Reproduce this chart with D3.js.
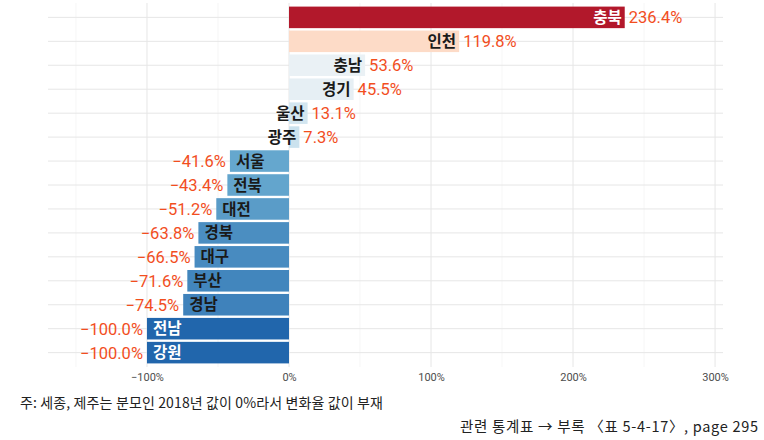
<!DOCTYPE html>
<html><head><meta charset="utf-8">
<script src="https://cdn.jsdelivr.net/npm/d3@7"></script>
<style>
html,body{margin:0;padding:0;background:#fff;}
svg{display:block;}
</style></head>
<body>
<svg id="chart" width="764" height="440"></svg>
<script>
const regions = ["충북","인천","충남","경기","울산","광주","서울","전북","대전","경북","대구","부산","경남","전남","강원"];
const changes = [236.4,119.8,53.6,45.5,13.1,7.3,-41.6,-43.4,-51.2,-63.8,-66.5,-71.6,-74.5,-100.0,-100.0];
const majorTicks = [-100,0,100,200,300];
const minorTicks = [-150,-50,50,150,250];
const footnote = "주: 세종, 제주는 분모인 2018년 값이 0%라서 변화율 값이 부재";
const source = "관련 통계표 → 부록 〈표 5-4-17〉, page 295";

(function(){
const svg = d3.select("#chart");
const pL = 48, pR = 723, pT = 3, pB = 367;

const x = d3.scaleLinear().domain([-169.7, 305.6]).range([pL, pR]);
const y = d3.scalePoint().domain(regions).range([pT, pB]).padding(0.6);
const bh = y.step() * 0.9;

const color = d3.scaleLinear()
  .domain([-100, -40, 10, 75, 120, 236.4])
  .range(["#2166AC","#67A9CF","#D1E5F0","#F7F7F7","#FDDBC7","#B2182B"])
  .clamp(true);

const fmt = v => (v < 0 ? "\u2212" : "") + Math.abs(v).toFixed(1) + "%";
const tickFmt = v => (v < 0 ? "\u2212" : "") + Math.abs(v) + "%";

const g = svg.append("g");
g.selectAll(".vminor").data(minorTicks).join("line")
  .attr("x1", d => x(d)).attr("x2", d => x(d)).attr("y1", pT).attr("y2", pB)
  .attr("stroke", "#f0f0f0").attr("stroke-width", 0.6);
g.selectAll(".vmajor").data(majorTicks).join("line")
  .attr("x1", d => x(d)).attr("x2", d => x(d)).attr("y1", pT).attr("y2", pB)
  .attr("stroke", "#e6e6e6").attr("stroke-width", 1);
g.selectAll(".hmajor").data(regions).join("line")
  .attr("x1", pL).attr("x2", pR).attr("y1", d => y(d)).attr("y2", d => y(d))
  .attr("stroke", "#e6e6e6").attr("stroke-width", 1);

const data = regions.map((r, i) => ({r, v: changes[i]}));

g.selectAll(".bar").data(data).join("rect")
  .attr("x", d => x(Math.min(0, d.v)))
  .attr("width", d => Math.abs(x(d.v) - x(0)))
  .attr("y", d => y(d.r) - bh/2)
  .attr("height", bh)
  .attr("fill", d => color(d.v));

const isDark = c => d3.hsl(c).l < 0.45;

g.selectAll(".name").data(data).join("text")
  .attr("x", d => d.v >= 0 ? x(d.v) - 3 : x(d.v) + 6)
  .attr("y", d => y(d.r))
  .attr("dy", "0.36em")
  .attr("text-anchor", d => d.v >= 0 ? "end" : "start")
  .attr("font-family", "'Noto Sans CJK KR','Noto Sans',sans-serif")
  .attr("font-weight", "bold")
  .attr("font-size", 15.5)
  .attr("fill", d => isDark(color(d.v)) ? "#ffffff" : "#1a1a1a")
  .text(d => d.r);

g.selectAll(".val").data(data).join("text")
  .attr("x", d => d.v >= 0 ? x(d.v) + 4 : x(d.v) - 4)
  .attr("y", d => y(d.r))
  .attr("dy", "0.36em")
  .attr("text-anchor", d => d.v >= 0 ? "start" : "end")
  .attr("font-family", "Roboto,'Noto Sans',sans-serif")
  .attr("font-size", 16.5)
  .attr("fill", "#F24E1E")
  .text(d => fmt(d.v));

const axis = d3.axisBottom(x).tickValues(majorTicks).tickFormat(tickFmt).tickSize(0).tickPadding(6);
const ax = svg.append("g").attr("transform", `translate(0,${pB})`).call(axis);
ax.select(".domain").remove();
ax.selectAll("text").attr("font-family", "Roboto,'Noto Sans',sans-serif").attr("font-size", 11).attr("fill", "#4d4d4d");

svg.append("text").attr("x", 20).attr("y", 403).attr("dy", "0.36em")
  .attr("font-family", "'Noto Sans CJK KR',sans-serif").attr("font-size", 14)
  .attr("textLength", 363).attr("lengthAdjust", "spacing")
  .attr("fill", "#222").text(footnote);
svg.append("text").attr("x", 460).attr("y", 427).attr("dy", "0.36em")
  .attr("font-family", "'Noto Sans CJK KR',sans-serif").attr("font-size", 14.5)
  .attr("textLength", 298).attr("lengthAdjust", "spacing")
  .attr("fill", "#222").text(source);
})();
</script>
</body></html>
